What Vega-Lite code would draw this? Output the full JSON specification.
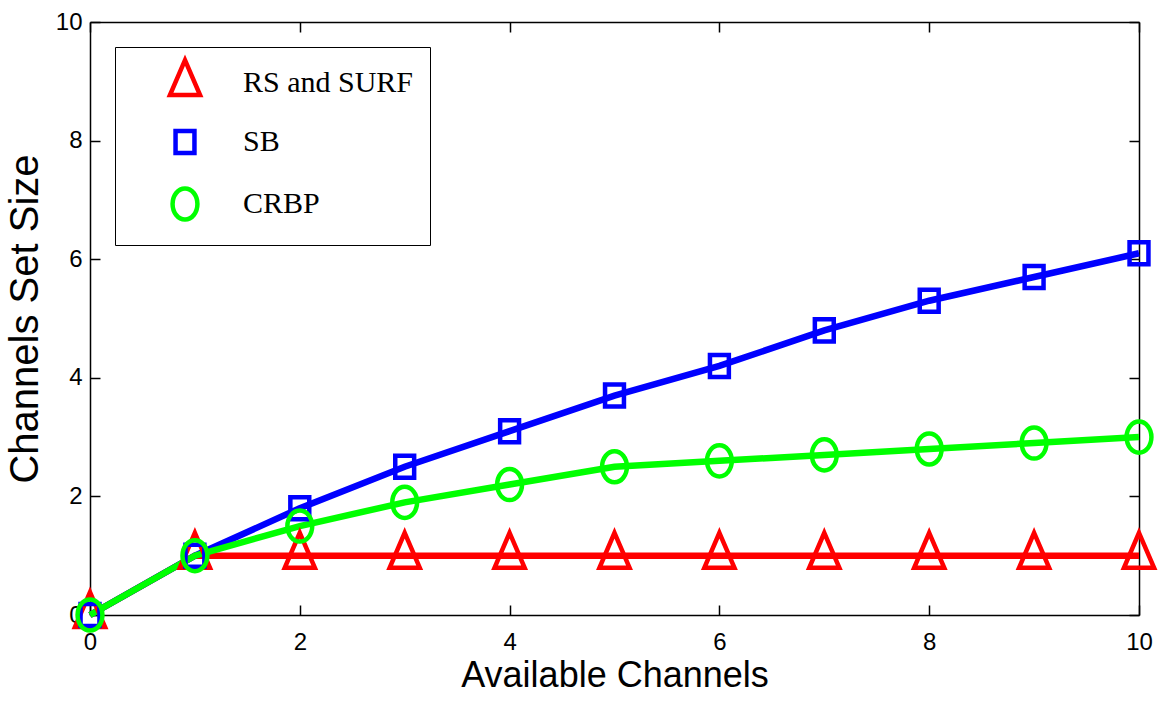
{
  "$schema": "https://vega.github.io/schema/vega-lite/v6.json",
  "width": 1049,
  "height": 593,
  "autosize": {"type": "none"},
  "padding": {"left": 90, "top": 22, "right": 29, "bottom": 87},
  "background": "white",
  "config": {"view": {"stroke": null}},
  "data": {"values": [
    {"x": 0, "y": 0, "series": "RS and SURF"},
    {"x": 1, "y": 1, "series": "RS and SURF"},
    {"x": 2, "y": 1, "series": "RS and SURF"},
    {"x": 3, "y": 1, "series": "RS and SURF"},
    {"x": 4, "y": 1, "series": "RS and SURF"},
    {"x": 5, "y": 1, "series": "RS and SURF"},
    {"x": 6, "y": 1, "series": "RS and SURF"},
    {"x": 7, "y": 1, "series": "RS and SURF"},
    {"x": 8, "y": 1, "series": "RS and SURF"},
    {"x": 9, "y": 1, "series": "RS and SURF"},
    {"x": 10, "y": 1, "series": "RS and SURF"},
    {"x": 0, "y": 0, "series": "SB"},
    {"x": 1, "y": 1, "series": "SB"},
    {"x": 2, "y": 1.8, "series": "SB"},
    {"x": 3, "y": 2.5, "series": "SB"},
    {"x": 4, "y": 3.1, "series": "SB"},
    {"x": 5, "y": 3.7, "series": "SB"},
    {"x": 6, "y": 4.2, "series": "SB"},
    {"x": 7, "y": 4.8, "series": "SB"},
    {"x": 8, "y": 5.3, "series": "SB"},
    {"x": 9, "y": 5.7, "series": "SB"},
    {"x": 10, "y": 6.1, "series": "SB"},
    {"x": 0, "y": 0, "series": "CRBP"},
    {"x": 1, "y": 1, "series": "CRBP"},
    {"x": 2, "y": 1.5, "series": "CRBP"},
    {"x": 3, "y": 1.9, "series": "CRBP"},
    {"x": 4, "y": 2.2, "series": "CRBP"},
    {"x": 5, "y": 2.5, "series": "CRBP"},
    {"x": 6, "y": 2.6, "series": "CRBP"},
    {"x": 7, "y": 2.7, "series": "CRBP"},
    {"x": 8, "y": 2.8, "series": "CRBP"},
    {"x": 9, "y": 2.9, "series": "CRBP"},
    {"x": 10, "y": 3.0, "series": "CRBP"}
  ]},
  "encoding": {
    "x": {"field": "x", "type": "quantitative", "scale": {"domain": [0, 10], "nice": false, "zero": false}, "axis": null},
    "y": {"field": "y", "type": "quantitative", "scale": {"domain": [0, 10], "nice": false, "zero": false}, "axis": null}
  },
  "resolve": {"scale": {"x": "shared", "y": "shared"}, "axis": {"x": "independent", "y": "independent"}},
  "layer": [
    {
      "transform": [{"filter": "datum.series === 'RS and SURF'"}],
      "mark": {"type": "line", "color": "#ff0000", "strokeWidth": 6.5},
      "encoding": {
        "x": {"field": "x", "type": "quantitative", "scale": {"domain": [0, 10], "nice": false, "zero": false},
          "axis": {"orient": "bottom", "values": [0, 2, 4, 6, 8, 10], "grid": false, "domain": true, "domainColor": "black", "domainWidth": 1.5,
            "ticks": true, "tickSize": -10, "tickColor": "black", "tickWidth": 1.5, "labelPadding": 25, "labelFlush": false,
            "labelFont": "Liberation Sans", "labelFontSize": 24, "labelColor": "black",
            "title": "Available Channels", "titleFont": "Liberation Sans", "titleFontSize": 36, "titleFontWeight": "normal", "titleColor": "black", "titlePadding": 4}},
        "y": {"field": "y", "type": "quantitative", "scale": {"domain": [0, 10], "nice": false, "zero": false},
          "axis": {"orient": "left", "values": [0, 2, 4, 6, 8, 10], "grid": false, "domain": true, "domainColor": "black", "domainWidth": 1.5,
            "ticks": true, "tickSize": -10, "tickColor": "black", "tickWidth": 1.5, "labelPadding": 18, "labelFlush": false,
            "labelFont": "Liberation Sans", "labelFontSize": 24, "labelColor": "black",
            "title": "Channels Set Size", "titleFont": "Liberation Sans", "titleFontSize": 40, "titleFontWeight": "normal", "titleColor": "black", "titlePadding": 10}}
      }
    },
    {
      "transform": [{"filter": "datum.series === 'SB'"}],
      "mark": {"type": "line", "color": "#0000ff", "strokeWidth": 6.5},
      "encoding": {}
    },
    {
      "transform": [{"filter": "datum.series === 'CRBP'"}],
      "mark": {"type": "line", "color": "#00ff00", "strokeWidth": 6.5},
      "encoding": {}
    },
    {
      "mark": {"type": "point", "filled": false, "strokeWidth": 4.5, "size": 1225, "opacity": 1},
      "encoding": {
        "x": {"field": "x", "type": "quantitative", "scale": {"domain": [0, 10], "nice": false, "zero": false},
          "axis": {"orient": "top", "values": [0, 2, 4, 6, 8, 10], "grid": false, "domain": true, "domainColor": "black", "domainWidth": 1.5,
            "ticks": true, "tickSize": -10, "tickColor": "black", "tickWidth": 1.5, "labels": false, "title": null}},
        "y": {"field": "y", "type": "quantitative", "scale": {"domain": [0, 10], "nice": false, "zero": false},
          "axis": {"orient": "right", "values": [0, 2, 4, 6, 8, 10], "grid": false, "domain": true, "domainColor": "black", "domainWidth": 1.5,
            "ticks": true, "tickSize": -10, "tickColor": "black", "tickWidth": 1.5, "labels": false, "title": null}},
        "color": {"field": "series", "type": "nominal", "scale": {"domain": ["RS and SURF", "SB", "CRBP"], "range": ["#ff0000", "#0000ff", "#00ff00"]},
          "legend": {"orient": "top-left", "offset": 25, "title": null, "padding": 16, "strokeColor": "black", "fillColor": "white",
            "symbolSize": 1225, "symbolStrokeWidth": 4.5, "symbolFillColor": "transparent", "symbolOffset": 34, "labelFont": "Liberation Serif", "labelFontSize": 30, "labelColor": "black", "labelLimit": 500,
            "labelOffset": 38, "rowPadding": 16}},
        "shape": {"field": "series", "type": "nominal", "scale": {"domain": ["RS and SURF", "SB", "CRBP"], "range": ["M0,-1.31L0.86,0.69L-0.86,0.69Z", "M-0.54,-0.63H0.54V0.63H-0.54Z", "M0.71,0C0.71,0.492,0.392,0.89,0,0.89C-0.392,0.89,-0.71,0.492,-0.71,0C-0.71,-0.492,-0.392,-0.89,0,-0.89C0.392,-0.89,0.71,-0.492,0.71,0Z"]},
          "legend": null}
      }
    }
  ]
}
